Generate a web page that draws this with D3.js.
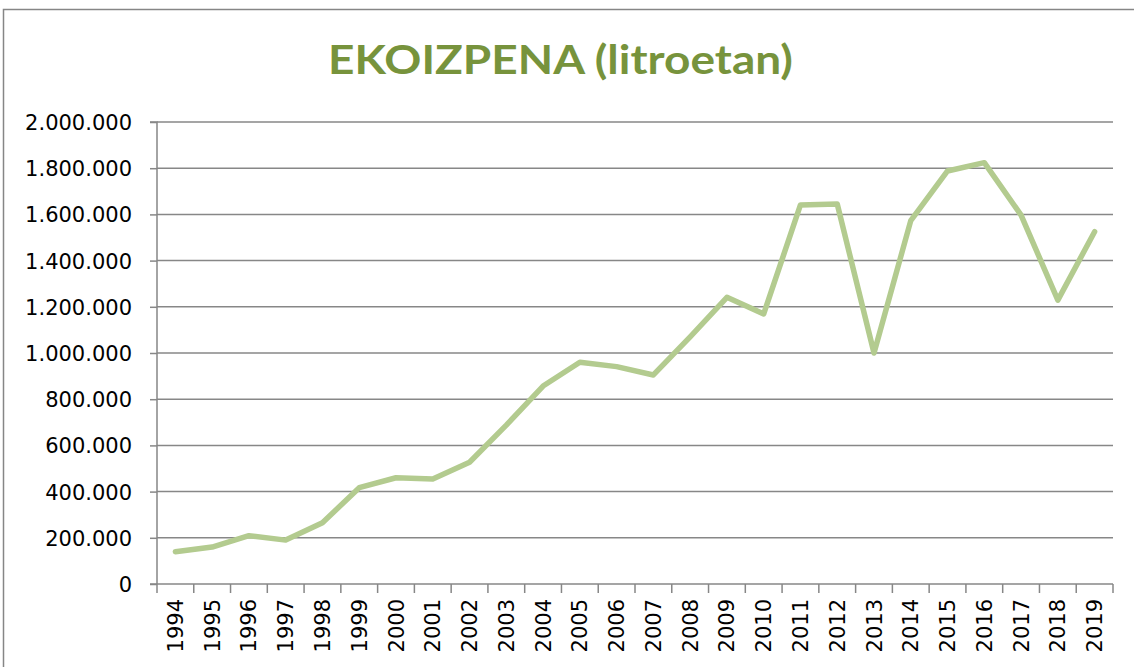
<!DOCTYPE html>
<html>
<head>
<meta charset="utf-8">
<script src="https://cdn.jsdelivr.net/npm/d3@7/dist/d3.min.js"></script>
<style>
  html, body { margin: 0; padding: 0; background: #fff; }
  svg { display: block; }
</style>
</head>
<body>
<svg id="chart" width="1134" height="667"></svg>
<script>
const titleText = "EKOIZPENA (litroetan)";
const years = ["1994","1995","1996","1997","1998","1999","2000","2001","2002","2003","2004","2005","2006","2007","2008","2009","2010","2011","2012","2013","2014","2015","2016","2017","2018","2019"];
const production = [140000,160000,209000,190000,265000,417000,460000,455000,527000,688000,857000,960000,941000,905000,1070000,1241000,1169000,1641000,1645000,1000000,1573000,1788000,1824000,1597000,1229000,1525000];
const yTicks = [0,200000,400000,600000,800000,1000000,1200000,1400000,1600000,1800000,2000000];

const svg = d3.select("#chart");
const W = 1134, H = 667;
const plot = {left: 157, right: 1113, top: 122, bottom: 584};

const locale = d3.formatLocale({decimal: ",", thousands: ".", grouping: [3], currency: ["", ""]});
const fmt = locale.format(",");

// outer chart border
svg.append("rect")
  .attr("x", 3.5).attr("y", 9.5)
  .attr("width", W + 20).attr("height", H + 20)
  .attr("fill", "#fff").attr("stroke", "#868686").attr("stroke-width", 1.5);

const x = d3.scaleBand().domain(years).range([plot.left, plot.right]).padding(0);
const y = d3.scaleLinear().domain([0, 2000000]).range([plot.bottom, plot.top]);

// gridlines
svg.append("g").selectAll("line").data(yTicks.filter(d => d > 0)).join("line")
  .attr("x1", plot.left).attr("x2", plot.right)
  .attr("y1", d => y(d)).attr("y2", d => y(d))
  .attr("stroke", "#878787").attr("stroke-width", 1.5);

// y axis
const yAxis = d3.axisLeft(y).tickValues(yTicks).tickFormat(fmt).tickSize(7).tickPadding(18);
const gy = svg.append("g").attr("transform", `translate(${plot.left},0)`).call(yAxis);
gy.select(".domain").attr("stroke", "#878787").attr("stroke-width", 1.5).attr("d", `M-7,${plot.top}H0V${plot.bottom}`);
gy.selectAll(".tick line").attr("stroke", "#878787").attr("stroke-width", 1.5);
gy.selectAll(".tick text")
  .attr("font-family", "DejaVu Sans").attr("font-size", 21).attr("fill", "#000").attr("dy", "0.36em");

// x axis
const gx = svg.append("g").attr("transform", `translate(0,${plot.bottom})`);
gx.append("line").attr("x1", plot.left - 7).attr("x2", plot.right).attr("y1", 0).attr("y2", 0)
  .attr("stroke", "#878787").attr("stroke-width", 1.5);
const boundaries = years.map(d => x(d)).concat([x(years[years.length - 1]) + x.bandwidth()]);
gx.selectAll("line.tk").data(boundaries).join("line").attr("class", "tk")
  .attr("x1", d => d).attr("x2", d => d).attr("y1", 0).attr("y2", 9)
  .attr("stroke", "#878787").attr("stroke-width", 1.5);
gx.selectAll("text").data(years).join("text")
  .attr("transform", d => `translate(${x(d) + x.bandwidth() / 2},15) rotate(-90)`)
  .attr("text-anchor", "end").attr("dy", "0.36em")
  .attr("font-family", "DejaVu Sans").attr("font-size", 21).attr("fill", "#000")
  .text(d => d);

// line
const line = d3.line().x((d, i) => x(years[i]) + x.bandwidth() / 2).y(d => y(d));
svg.append("path").datum(production)
  .attr("d", line).attr("fill", "none")
  .attr("stroke", "#b3cb8f").attr("stroke-width", 5.5)
  .attr("stroke-linejoin", "round").attr("stroke-linecap", "round");

// title
svg.append("text")
  .attr("x", 560.5).attr("y", 74)
  .attr("text-anchor", "middle")
  .attr("font-family", "Lato, 'Open Sans', sans-serif").attr("font-weight", "bold")
  .attr("font-size", 41).attr("fill", "#77933c")
  .attr("textLength", 465).attr("lengthAdjust", "spacingAndGlyphs")
  .text(titleText);
</script>
</body>
</html>
